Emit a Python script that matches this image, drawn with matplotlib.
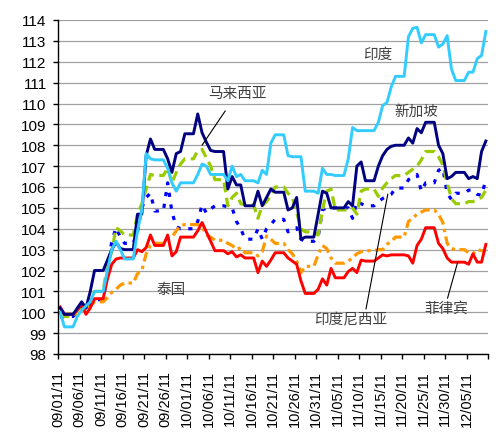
import numpy as np
import matplotlib
matplotlib.use("Agg")
import matplotlib.pyplot as plt

plt.rcParams['font.family'] = ['Liberation Sans', 'Noto Sans CJK SC', 'DejaVu Sans']
plt.rcParams['lines.scale_dashes'] = False

# daily values, 2011-09-01 .. 2011-12-09 (weekends carry Friday's value)
singapore = [100.2, 99.9, 99.9, 99.9, 100.2, 100.5, 100.2, 101.0, 102.0, 102.0,
             102.0, 102.5, 103.0, 103.35, 103.05, 103.0, 103.0, 103.0, 104.7, 104.7,
             107.5, 108.3, 107.8, 107.8, 107.8, 107.35, 106.7, 107.6, 107.7, 108.55,
             108.55, 108.55, 109.5, 108.6, 108.15, 107.75, 107.7, 107.7, 107.7, 105.9,
             106.5, 106.1, 106.1, 105.1, 105.1, 105.1, 105.8, 105.1, 105.5, 105.9,
             105.75, 105.75, 105.75, 104.9, 105.0, 105.5, 103.5, 103.6, 103.6, 103.6,
             104.7, 105.8, 105.7, 105.0, 105.0, 105.0, 105.0, 105.3, 105.1, 107.0,
             107.2, 106.3, 106.3, 106.3, 107.0, 107.5, 107.8, 107.95, 108.0, 108.0,
             108.0, 108.35, 108.1, 108.8, 108.6, 109.1, 109.1, 109.1, 108.0, 107.6,
             106.4, 106.5, 106.7, 106.7, 106.7, 106.4, 106.5, 106.4, 107.7, 108.2]
india = [100.0, 99.3, 99.3, 99.3, 99.8, 100.1, 100.3, 100.5, 101.0, 101.0,
         101.0, 102.0, 103.0, 103.4, 103.0, 102.55, 102.55, 102.55, 103.9, 104.9,
         107.6, 107.35, 107.3, 107.3, 107.3, 106.9, 106.2, 105.8, 106.2, 106.2,
         106.2, 106.2, 106.6, 107.1, 107.0, 106.6, 106.6, 106.6, 106.6, 106.3,
         107.0, 106.5, 106.6, 106.3, 106.3, 106.3, 106.2, 106.8, 106.6, 108.1,
         108.5, 108.5, 108.5, 107.5, 107.45, 107.45, 107.45, 105.8, 105.8, 105.8,
         105.7, 106.9, 106.6, 106.6, 106.55, 106.55, 106.55, 107.35, 108.85, 108.7,
         108.7, 108.7, 108.7, 108.7, 109.1, 109.9, 110.05, 110.8, 111.3, 111.3,
         111.3, 113.2, 113.6, 113.65, 112.9, 113.3, 113.3, 113.3, 112.7, 112.85,
         113.25, 111.65, 111.1, 111.1, 111.1, 111.5, 111.5, 112.15, 112.3, 113.45]
malaysia = [99.9, 99.8, 99.8, 99.8, 100.1, 100.3, 100.3, 100.6, 101.0, 101.0,
            101.0, 102.3, 102.9, 104.05, 103.9, 103.7, 103.7, 103.7, 104.7, 105.2,
            105.9, 106.6, 106.55, 106.55, 106.55, 106.9, 106.2, 106.7, 107.1, 107.35,
            107.35, 107.35, 107.75, 107.8, 107.4, 107.0, 106.35, 106.35, 106.35, 105.1,
            105.5, 105.7, 105.2, 105.15, 105.15, 105.15, 104.5, 105.1, 105.3, 105.6,
            106.0, 106.0, 106.0, 105.7, 105.5, 104.8, 104.0, 103.85, 103.85, 103.85,
            103.7, 104.9, 105.8, 105.9, 104.9, 104.9, 104.9, 104.9, 105.0, 104.7,
            105.8, 105.9, 105.9, 105.9, 105.55, 105.95, 106.2, 106.4, 106.55, 106.55,
            106.55, 106.7, 106.85, 107.0, 107.3, 107.7, 107.7, 107.7, 107.45, 107.05,
            106.2, 105.45, 105.2, 105.2, 105.2, 105.3, 105.3, 105.4, 105.5, 105.85]
philippines = [100.25, 99.9, 99.9, 99.9, 100.1, 100.4, 99.9, 100.2, 100.65, 100.65,
               100.65, 101.6, 102.3, 102.55, 102.6, 102.6, 102.6, 102.6, 103.0, 102.9,
               103.1, 103.7, 103.2, 103.2, 103.2, 103.7, 102.7, 102.9, 103.6, 103.6,
               103.6, 103.6, 103.9, 104.3, 103.85, 103.4, 102.95, 102.95, 102.95, 102.8,
               102.9, 102.65, 102.75, 102.6, 102.6, 102.6, 101.9, 102.45, 102.2, 102.5,
               102.85, 102.85, 102.85, 102.6, 102.45, 102.3, 101.5, 100.9, 100.9, 100.9,
               101.1, 101.6, 101.3, 102.1, 101.65, 101.65, 101.65, 101.95, 102.1, 101.9,
               102.5, 102.45, 102.45, 102.45, 102.6, 102.75, 102.7, 102.75, 102.75, 102.75,
               102.75, 102.7, 102.35, 103.2, 103.5, 104.05, 104.05, 104.05, 103.3, 103.05,
               102.6, 102.4, 102.4, 102.4, 102.4, 102.3, 102.8, 102.4, 102.4, 103.25]
thailand = [100.0, 99.9, 99.9, 99.9, 99.95, 100.1, 100.2, 100.3, 100.5, 100.5,
            100.5, 100.7, 100.95, 101.1, 101.3, 101.4, 101.4, 101.4, 101.85, 102.0,
            102.8, 103.2, 103.3, 103.3, 103.3, 103.55, 103.6, 103.9, 104.15, 104.2,
            104.2, 104.2, 104.2, 104.1, 103.7, 103.6, 103.45, 103.45, 103.45, 103.3,
            103.2, 103.0, 103.1, 102.85, 102.85, 102.85, 102.7, 102.9, 103.65, 103.5,
            103.3, 103.3, 103.3, 103.0, 102.8, 102.45, 101.9, 102.2, 102.2, 102.2,
            102.75, 103.2, 103.05, 102.6, 102.35, 102.35, 102.35, 102.45, 102.6, 102.8,
            102.9, 102.95, 102.95, 102.95, 103.0, 103.0, 103.25, 103.4, 103.6, 103.6,
            103.6, 104.35, 104.5, 104.7, 104.8, 104.9, 104.9, 104.9, 104.7, 104.3,
            103.3, 103.05, 103.0, 103.0, 103.0, 102.85, 102.8, 103.0, 102.95, 102.95]
indonesia = [99.75, 99.8, 99.8, 99.8, 100.0, 100.3, 100.2, 100.3, 100.6, 100.6,
             100.6, 101.9, 103.4, 104.05, 103.6, 103.3, 103.3, 103.3, 103.9, 105.0,
             105.5, 105.7, 104.85, 104.85, 104.85, 106.2, 104.8, 104.1, 104.0, 104.0,
             104.0, 104.0, 104.35, 105.15, 104.75, 104.95, 105.1, 105.1, 105.1, 105.05,
             105.0, 104.35, 104.0, 103.5, 103.5, 103.5, 104.0, 103.5, 104.0, 104.2,
             104.45, 104.45, 104.45, 103.85, 104.0, 104.05, 103.5, 103.4, 103.4, 103.4,
             103.6, 104.9, 105.0, 105.0, 105.0, 105.0, 105.0, 105.0, 104.5, 105.3,
             105.2, 105.1, 105.1, 105.1, 105.3, 105.45, 105.55, 105.65, 105.95, 105.95,
             105.95, 106.35, 106.5, 106.6, 105.8, 106.2, 106.2, 106.2, 106.8, 106.9,
             105.7, 105.4, 105.7, 105.7, 105.7, 105.85, 105.85, 105.65, 105.6, 106.35]

tick_labels = ['09/01/11', '09/06/11', '09/11/11', '09/16/11', '09/21/11', '09/26/11',
               '10/01/11', '10/06/11', '10/11/11', '10/16/11', '10/21/11', '10/26/11',
               '10/31/11', '11/05/11', '11/10/11', '11/15/11', '11/20/11', '11/25/11',
               '11/30/11', '12/05/11', '']

fig = plt.figure(figsize=(5.02, 4.39), dpi=100)
ax = fig.add_axes([58 / 502, 1 - 355 / 439, 430 / 502, 334 / 439])

days = np.arange(len(singapore)) + 0.5

ax.set_ylim(98, 114)
ax.set_xlim(0, 100)
ax.set_yticks(np.arange(98, 115, 1))
ax.yaxis.grid(True, color='#A0A0A0', linewidth=0.9)
ax.set_axisbelow(True)

ax.plot(days, indonesia, color='#0000FF', lw=2.3, linestyle=(0, (3.0, 5.5)), dash_capstyle='butt')
ax.plot(days, malaysia, color='#99CC00', lw=2.3, linestyle=(0, (7.0, 4.0)), dash_capstyle='butt')
ax.plot(days, thailand, color='#FF9900', lw=2.3, linestyle=(0, (7.0, 3.2, 2.4, 3.2)), dash_capstyle='butt')
ax.plot(days, philippines, color='#FF0000', lw=2.1)
ax.plot(days, singapore, color='#000080', lw=2.1)
ax.plot(days, india, color='#33CCFF', lw=2.1)

ax.set_xticks(np.arange(0, 101, 5))
ax.set_xticklabels(tick_labels, rotation=90, fontsize=10.5)
for lab in ax.get_yticklabels():
    lab.set_fontsize(11)

for s in ['top', 'right']:
    ax.spines[s].set_visible(False)
for s in ['left', 'bottom']:
    ax.spines[s].set_color('black')
    ax.spines[s].set_linewidth(1.0)
ax.tick_params(axis='y', direction='out', length=3.6, width=1.0, pad=4.5, colors='black')
ax.tick_params(axis='x', direction='out', length=3.6, width=1.0, pad=8, colors='black')

tcol = '#404040'
cjk = ['Noto Sans CJK SC', 'DejaVu Sans']
ax.annotate('马来西亚', xy=(33.5, 108.0), xytext=(41.7, 110.5), ha='center', va='center',
            fontsize=10.5, color=tcol, family=cjk,
            arrowprops=dict(arrowstyle='-', color='black', lw=0.8, shrinkA=7, shrinkB=0))
ax.text(74.4, 112.37, '印度', ha='center', va='center', fontsize=10.5, color=tcol, family=cjk)
ax.text(83.4, 109.64, '新加坡', ha='center', va='center', fontsize=10.5, color=tcol, family=cjk)
ax.text(26.2, 101.1, '泰国', ha='center', va='center', fontsize=10.5, color=tcol, family=cjk)
ax.annotate('印度尼西亚', xy=(76.7, 105.66), xytext=(68.1, 99.68), ha='center', va='center',
            fontsize=10.5, color=tcol, family=cjk,
            arrowprops=dict(arrowstyle='-', color='black', lw=0.8, shrinkA=0, shrinkB=0,
                            relpos=(0.7, 1.0)))
ax.annotate('菲律宾', xy=(92.95, 102.4), xytext=(90.4, 100.2), ha='center', va='center',
            fontsize=10.5, color=tcol, family=cjk,
            arrowprops=dict(arrowstyle='-', color='black', lw=0.8, shrinkA=0, shrinkB=0,
                            relpos=(0.5, 1.0)))

fig.savefig('out.png', dpi=100)
